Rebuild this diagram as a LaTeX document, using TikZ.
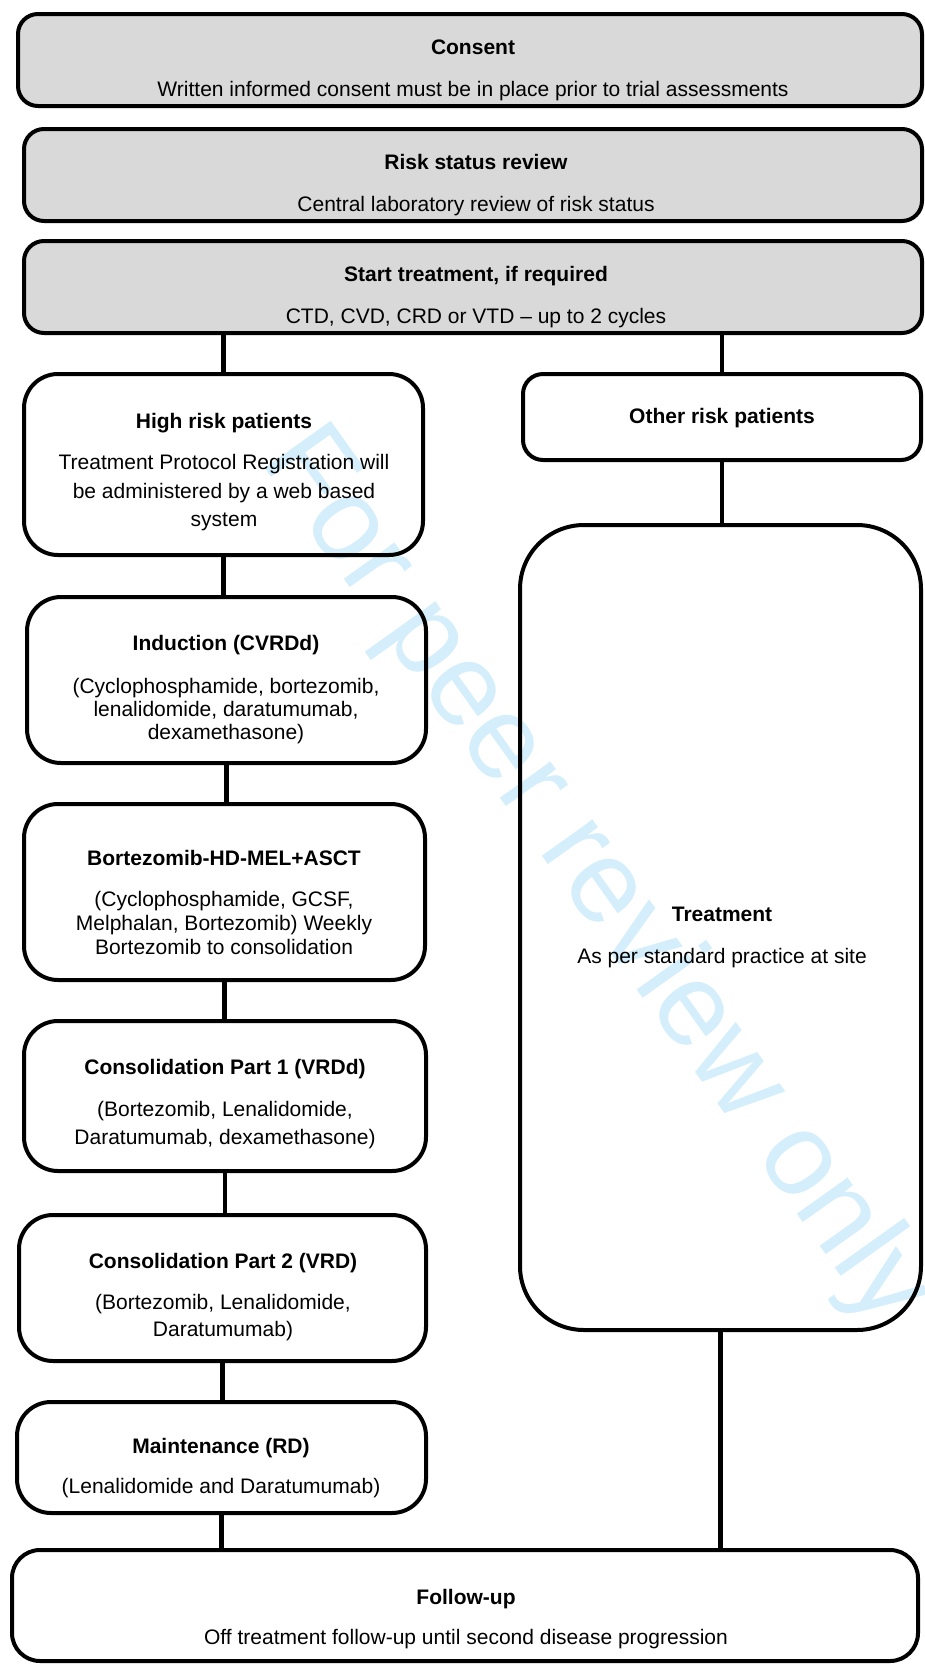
\documentclass[tikz,border=0pt]{standalone}
\usepackage{fontspec}
\setmainfont{Liberation Sans}
\usepackage{xcolor}
\definecolor{boxgrey}{RGB}{217,217,217}
\definecolor{markblue}{RGB}{213,238,251}

\begin{document}
\begin{tikzpicture}[x=0.5pt,y=-0.5pt,
  greybox/.style={draw,line width=2pt,fill=boxgrey,rounded corners=10pt,inner sep=0pt},
  stepbox/.style={draw,line width=2pt,rounded corners=17pt,inner sep=0pt},
  txt/.style={align=center,inner sep=0pt,font=\fontsize{10.5}{#1}\selectfont},
  txt/.default=13,
  link/.style={line width=2.4pt}]
  \useasboundingbox (0,0) rectangle (925,1666);
  % watermark
  \node[anchor=base west,inner sep=0pt,rotate=-54.5,text=markblue,
        font=\fontsize{59}{59}\selectfont] (mark) at (259,460) {For peer review only};
  % common steps
  \node[greybox,minimum width=452pt,minimum height=46pt] (consent) at (470,60) {};
  \node[txt] (consent-t) at (473,70.5)
    {\textbf{Consent}\\[8pt]Written informed consent must be in place prior to trial assessments};
  \node[greybox,minimum width=449pt,minimum height=46pt] (risk) at (473,175) {};
  \node[txt] (risk-t) at (476,185.5)
    {\textbf{Risk status review}\\[8pt]Central laboratory review of risk status};
  \node[greybox,minimum width=449pt,minimum height=46pt] (start) at (473,287) {};
  \node[txt] (start-t) at (476,297)
    {\textbf{Start treatment, if required}\\[8pt]CTD, CVD, CRD or VTD -- up to 2 cycles};
  % high risk arm
  \node[stepbox,minimum width=199.5pt,minimum height=90.5pt] (high) at (223.5,464.5) {};
  \node[txt=14.25] (high-t) at (224,472.5)
    {\textbf{High risk patients}\\[6.25pt]Treatment Protocol Registration will\\be administered by a web based\\system};
  \node[stepbox,minimum width=199.5pt,minimum height=83pt] (induction) at (226.5,680) {};
  \node[txt=11.5] (induction-t) at (226,690)
    {\textbf{Induction (CVRDd)}\\[10pt](Cyclophosphamide, bortezomib,\\lenalidomide, daratumumab,\\dexamethasone)};
  \node[stepbox,minimum width=200.5pt,minimum height=88pt] (asct) at (224.5,892) {};
  \node[txt=12] (asct-t) at (224,902)
    {\textbf{Bortezomib-HD-MEL+ASCT}\\[8.5pt](Cyclophosphamide, GCSF,\\Melphalan, Bortezomib) Weekly\\Bortezomib to consolidation};
  \node[stepbox,minimum width=201pt,minimum height=75pt] (cons1) at (225,1096) {};
  \node[txt=14] (cons1-t) at (225,1104.5)
    {\textbf{Consolidation Part 1 (VRDd)}\\[7pt](Bortezomib, Lenalidomide,\\Daratumumab, dexamethasone)};
  \node[stepbox,minimum width=203.5pt,minimum height=73pt] (cons2) at (222.5,1288) {};
  \node[txt=13.5] (cons2-t) at (223,1297.5)
    {\textbf{Consolidation Part 2 (VRD)}\\[7pt](Bortezomib, Lenalidomide,\\Daratumumab)};
  \node[stepbox,minimum width=204.5pt,minimum height=55.5pt] (maint) at (221.5,1457.5) {};
  \node[txt] (maint-t) at (221,1468.5)
    {\textbf{Maintenance (RD)}\\[7pt](Lenalidomide and Daratumumab)};
  % other risk arm
  \node[stepbox,rounded corners=10pt,minimum width=199pt,minimum height=43pt] (other) at (722,417) {};
  \node[txt] (other-t) at (722,418) {\textbf{Other risk patients}};
  \node[stepbox,rounded corners=32pt,minimum width=200.5pt,minimum height=402.5pt] (treat) at (720.5,927.5) {};
  \node[txt] (treat-t) at (722,937.5)
    {\textbf{Treatment}\\[8pt]As per standard practice at site};
  % follow-up
  \node[stepbox,rounded corners=14pt,minimum width=453pt,minimum height=55.5pt] (follow) at (465,1605.5) {};
  \node[txt] (follow-t) at (466,1619.5)
    {\textbf{Follow-up}\\[7pt]Off treatment follow-up until second disease progression};
  % connectors
  \draw[link] (start.south -| high.north) -- (high.north);
  \draw[link] (high.south) -- (high.south |- induction.north);
  \draw[link] (induction.south) -- (induction.south |- asct.north);
  \draw[link] (asct.south) -- (asct.south |- cons1.north);
  \draw[link] (cons1.south) -- (cons1.south |- cons2.north);
  \draw[link] (cons2.south) -- (cons2.south |- maint.north);
  \draw[link] (maint.south) -- (maint.south |- follow.north);
  \draw[link] (start.south -| other.north) -- (other.north);
  \draw[link] (other.south) -- (other.south |- treat.north);
  \draw[link] (treat.south) -- (treat.south |- follow.north);
\end{tikzpicture}
\end{document}
